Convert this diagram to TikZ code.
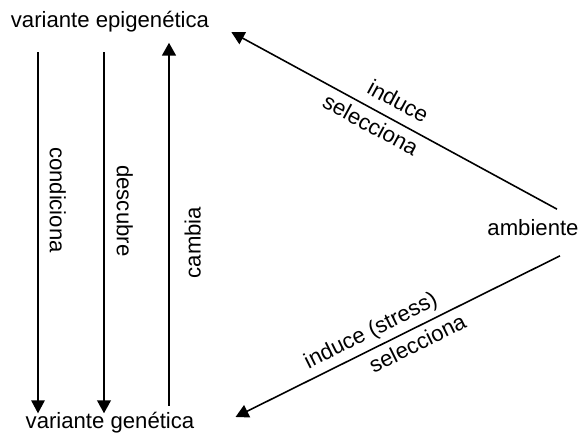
\documentclass[tikz,border=0pt]{standalone}
\usepackage{fontspec}
\setmainfont{Liberation Sans}
\usetikzlibrary{arrows.meta}

\begin{document}
\begin{tikzpicture}[x=0.2mm,y=-0.2mm,
	every node/.style={font=\fontsize{12.6}{15}\selectfont},
	tip/.style={{Triangle[length=2.6mm,width=2.7mm]}-}]
	\useasboundingbox (0,0) rectangle (581,440);
	\node at (110,22) (1) {variante epigenética};
	\node at (110,423) (2) {variante genética};
	\node at (533,228) (3) {ambiente};
	\draw [tip,line width=0.8pt] ([xshift=-14.4mm,yshift=-1.4mm]2.north) -- ([xshift=-14.4mm,yshift=-2.6mm]1.south) node[pos=0.59,rotate=-90,anchor=south,inner sep=2.2mm] {condiciona};
	\draw [tip,line width=1.4pt] ([xshift=-1.2mm,yshift=-1.4mm]2.north) -- ([xshift=-1.2mm,yshift=-2.6mm]1.south) node[pos=0.56,rotate=-90,anchor=south,inner sep=2.3mm] {descubre};
	\draw [tip,line width=1.7pt] ([xshift=11.8mm,yshift=-0.8mm]1.south) -- ([xshift=11.8mm]2.north) node[pos=0.55,rotate=90,anchor=north,inner sep=2.8mm] {cambia};
	\draw [tip,line width=0.9pt] ([xshift=3.2mm,yshift=-2mm]1.east) -- ([xshift=4.8mm,yshift=0.9mm]3.north) node[pos=0.485,sloped,above,inner sep=2mm] {induce} node[pos=0.45,sloped,below] {selecciona};
	\draw [tip,line width=0.9pt] ([xshift=7mm,yshift=1.2mm]2.east) -- ([xshift=5.4mm,yshift=-2.7mm]3.south) node[pos=0.44,sloped,above,inner sep=1mm] {induce (stress)} node[pos=0.54,sloped,below] {selecciona};
\end{tikzpicture}
\end{document}
